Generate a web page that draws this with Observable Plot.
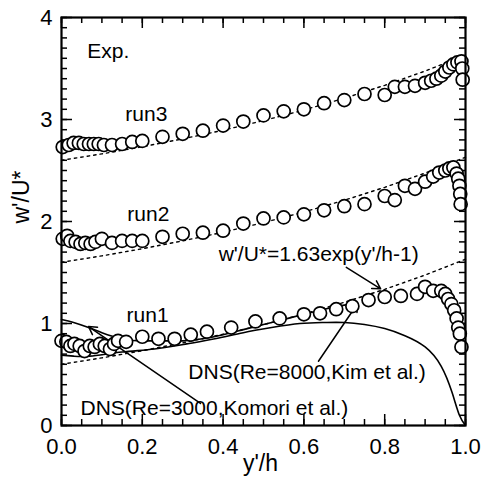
<!DOCTYPE html>
<html><head><meta charset="utf-8">
<script src="https://cdn.jsdelivr.net/npm/d3@7"></script>
<script src="https://cdn.jsdelivr.net/npm/@observablehq/plot@0.6"></script>
<style>body{margin:0;background:#fff}</style>
</head><body><div id="chart"></div>
<script>
// ---- data ----
const run1X = [0.0,0.012,0.022,0.032,0.045,0.057,0.07,0.082,0.095,0.107,0.12,0.13,0.14,0.16,0.20,0.24,0.28,0.32,0.36,0.42,0.48,0.54,0.60,0.64,0.68,0.72,0.76,0.80,0.84,0.88,0.90,0.92,0.94,0.95,0.957,0.965,0.972,0.978,0.982,0.986,0.99];
const run1Y = [0.83,0.82,0.78,0.80,0.78,0.73,0.78,0.77,0.80,0.78,0.75,0.80,0.83,0.82,0.87,0.85,0.85,0.89,0.92,0.96,1.02,1.05,1.09,1.10,1.14,1.17,1.23,1.26,1.27,1.29,1.36,1.32,1.32,1.29,1.24,1.19,1.13,1.05,0.96,0.90,0.77];
const run2X = [0.003,0.014,0.022,0.035,0.047,0.059,0.072,0.084,0.10,0.125,0.15,0.175,0.20,0.25,0.30,0.35,0.40,0.45,0.50,0.55,0.60,0.65,0.70,0.75,0.80,0.825,0.85,0.875,0.90,0.92,0.935,0.95,0.96,0.97,0.978,0.982,0.985,0.987,0.988];
const run2Y = [1.83,1.86,1.81,1.80,1.78,1.79,1.78,1.80,1.83,1.79,1.81,1.81,1.81,1.85,1.88,1.89,1.91,1.98,2.03,2.04,2.07,2.11,2.15,2.17,2.25,2.21,2.35,2.32,2.39,2.44,2.48,2.50,2.52,2.53,2.47,2.42,2.35,2.27,2.17];
const run3X = [0.003,0.018,0.03,0.043,0.055,0.068,0.08,0.092,0.105,0.125,0.15,0.175,0.20,0.25,0.30,0.35,0.40,0.45,0.50,0.55,0.60,0.65,0.70,0.75,0.80,0.825,0.85,0.875,0.90,0.915,0.928,0.94,0.95,0.96,0.97,0.98,0.99,0.992,0.993];
const run3Y = [2.73,2.75,2.77,2.77,2.76,2.76,2.76,2.76,2.75,2.75,2.76,2.78,2.79,2.83,2.86,2.89,2.94,2.98,3.04,3.08,3.10,3.16,3.19,3.25,3.24,3.32,3.32,3.33,3.36,3.38,3.40,3.43,3.47,3.51,3.54,3.56,3.57,3.50,3.39];

// fit curve w'/U* = 1.63 exp(y'/h - 1), values tabulated, shifted by +1 per run
const fitX = [0,0.1,0.2,0.3,0.4,0.5,0.6,0.7,0.8,0.9,1.0];
const fitY = [0.600,0.663,0.733,0.810,0.895,0.989,1.093,1.208,1.335,1.475,1.630];
const fitOffsets = [0,1,2];

// DNS curves
const dnsKimX = [0,0.03,0.07,0.15,0.23,0.31,0.38,0.45,0.52,0.59,0.65,0.70,0.75,0.80,0.85,0.90,0.94,0.967,0.985,1.0];
const dnsKimY = [0.69,0.68,0.68,0.72,0.75,0.80,0.85,0.91,0.96,1.0,1.01,1.01,0.99,0.95,0.88,0.77,0.58,0.32,0.1,0];
const dnsKomoriX = [0,0.03,0.067,0.1,0.13,0.16,0.2,0.25,0.3,0.35,0.4,0.45,0.5,0.55,0.6,0.65,0.7,0.73];
const dnsKomoriY = [1.04,1.01,0.96,0.91,0.87,0.84,0.83,0.83,0.83,0.85,0.89,0.94,0.99,1.04,1.09,1.14,1.18,1.2];

// annotations
const annText = ["Exp.","run3","run2","run1","w'/U*=1.63exp(y'/h-1)","DNS(Re=8000,Kim et al.)","DNS(Re=3000,Komori et al.)"];
const annX = [0.064,0.158,0.163,0.161,0.389,0.314,0.047];
const annY = [3.67,3.05,2.07,1.08,1.68,0.52,0.167];
const arrowX1 = [0.344,0.636,0.705];
const arrowY1 = [0.216,0.63,1.55];
const arrowX2 = [0.067,0.733,0.79];
const arrowY2 = [0.97,1.196,1.34];

// ticks
const xMajor = [0,0.2,0.4,0.6,0.8,1.0];
const xMinor = d3.range(0,1.0001,0.05);
const yMajor = [0,1,2,3,4];
const yMinor = d3.range(0,4.0001,0.1);

// ---- build ----
const W = 496, H = 482, mL = 61, mR = 31, mT = 17, mB = 57;
const pxX = 1/(W-mL-mR), pxY = 4/(H-mT-mB);
const toPts = (xs, ys, extra={}) => xs.map((x,i)=>({x, y: ys[i], ...extra}));
const runs = [...toPts(run1X,run1Y,{run:1}), ...toPts(run2X,run2Y,{run:2}), ...toPts(run3X,run3Y,{run:3})];
const fits = fitOffsets.flatMap(o => fitX.map((x,i)=>({x, y: fitY[i]+o, run:o})));
const kim = toPts(dnsKimX, dnsKimY);
const komori = toPts(dnsKomoriX, dnsKomoriY);
const ann = annText.map((t,i)=>({t, x: annX[i], y: annY[i]}));
const arrows = arrowX1.map((x1,i)=>({x1, y1: arrowY1[i], x2: arrowX2[i], y2: arrowY2[i]}));

const tick = (len) => [
  Plot.ruleX(len > 8 ? xMajor : xMinor, {x: d=>d, y1: 0, y2: len*pxY, strokeWidth: 1.5}),
  Plot.ruleX(len > 8 ? xMajor : xMinor, {x: d=>d, y1: 4, y2: 4-len*pxY, strokeWidth: 1.5}),
  Plot.ruleY(len > 8 ? yMajor : yMinor, {y: d=>d, x1: 0, x2: len*pxX, strokeWidth: 1.5}),
  Plot.ruleY(len > 8 ? yMajor : yMinor, {y: d=>d, x1: 1, x2: 1-len*pxX, strokeWidth: 1.5})
];

const chart = Plot.plot({
  width: W, height: H,
  marginLeft: mL, marginRight: mR, marginTop: mT, marginBottom: mB,
  style: {fontFamily: "'Liberation Sans', Arial, Helvetica, sans-serif", background: "#fff", color: "#000"},
  x: {domain: [0,1], label: null},
  y: {domain: [0,4], label: null},
  marks: [
    ...tick(6), ...tick(11),
    Plot.axisX({ticks: xMajor, tickSize: 0, tickPadding: 13, fontSize: 22, tickFormat: d=>d.toFixed(1), label: null}),
    Plot.axisY({ticks: yMajor, tickSize: 0, tickPadding: 9, fontSize: 22, tickFormat: d=>String(d), label: null}),
    Plot.line(fits, {x: "x", y: "y", z: "run", stroke: "#000", strokeWidth: 1.4, strokeDasharray: "2.5,4"}),
    Plot.line(kim, {x: "x", y: "y", stroke: "#000", strokeWidth: 1.6, curve: "natural"}),
    Plot.line(komori, {x: "x", y: "y", stroke: "#000", strokeWidth: 1.6, curve: "natural"}),
    Plot.arrow(arrows, {x1: "x1", y1: "y1", x2: "x2", y2: "y2", stroke: "#000", strokeWidth: 1.5, headLength: 9}),
    Plot.dot(runs, {x: "x", y: "y", r: 6.5, stroke: "#000", strokeWidth: 1.7, fill: "#fff"}),
    Plot.text(ann, {x: "x", y: "y", text: "t", textAnchor: "start", lineAnchor: "middle", fontSize: 21, fill: "#000"}),
    Plot.text(["w'/U*"], {frameAnchor: "left", dx: -40, dy: 2, rotate: -90, fontSize: 23, fill: "#000"}),
    Plot.text(["y'/h"], {frameAnchor: "bottom", dy: 45, dx: -3, fontSize: 23, fill: "#000"}),
    Plot.frame({stroke: "#000", strokeWidth: 2.2})
  ]
});
document.getElementById("chart").appendChild(chart);
</script>
</body></html>
